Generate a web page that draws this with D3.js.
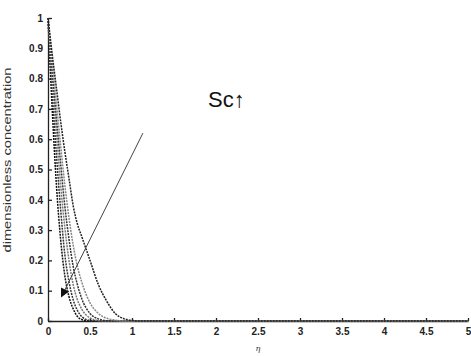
<!DOCTYPE html>
<html>
<head>
<meta charset="utf-8">
<script src="https://d3js.org/d3.v7.min.js"></script>
<style>
  body { margin: 0; background: #fff; }
  svg { display: block; }
  .axis text { font-family: Arial, "Liberation Sans", sans-serif; font-size: 10px; font-weight: bold; fill: #222; }
  .axis path, .axis line { stroke: #222; stroke-width: 1.3; }
</style>
</head>
<body>
<div id="container"></div>
<script>
// eta grid shared by all curves
const eta = [0, 0.05, 0.1, 0.15, 0.2, 0.25, 0.3, 0.35, 0.4, 0.5, 0.6, 0.7, 0.8, 0.9, 1.0, 1.1, 1.5, 2, 3, 4, 5]

// concentration profiles, Sc increasing from outer to inner curve
const curveA = [1, 0.70, 0.45, 0.27, 0.15, 0.08, 0.04, 0.015, 0.005, 0, 0, 0, 0, 0, 0, 0, 0, 0, 0, 0, 0]
const curveB = [1, 0.76, 0.55, 0.37, 0.22, 0.13, 0.07, 0.035, 0.015, 0.002, 0, 0, 0, 0, 0, 0, 0, 0, 0, 0, 0]
const curveC = [1, 0.80, 0.62, 0.45, 0.31, 0.20, 0.12, 0.07, 0.04, 0.01, 0.002, 0, 0, 0, 0, 0, 0, 0, 0, 0, 0]
const curveD = [1, 0.83, 0.67, 0.52, 0.38, 0.27, 0.18, 0.12, 0.075, 0.025, 0.007, 0.001, 0, 0, 0, 0, 0, 0, 0, 0, 0]
const curveE = [1, 0.86, 0.72, 0.58, 0.45, 0.34, 0.25, 0.18, 0.13, 0.06, 0.025, 0.009, 0.003, 0, 0, 0, 0, 0, 0, 0, 0]
const curveF = [1, 0.88, 0.77, 0.66, 0.56, 0.47, 0.38, 0.32, 0.28, 0.20, 0.12, 0.065, 0.025, 0.008, 0.002, 0, 0, 0, 0, 0, 0]
const curves = [curveA, curveB, curveC, curveD, curveE, curveF]
const curveColors = ["#111", "#333", "#777", "#333", "#888", "#222"]

const xTicks = [0, 0.5, 1, 1.5, 2, 2.5, 3, 3.5, 4, 4.5, 5]
const yTicks = [0, 0.1, 0.2, 0.3, 0.4, 0.5, 0.6, 0.7, 0.8, 0.9, 1]

// arrow showing increasing Sc (data coordinates)
const arrowFrom = [1.13, 0.62]
const arrowTo = [0.16, 0.08]

const w = 471
const h = 356

const xScale = d3.scaleLinear().domain([0, 5]).range([48, 468])
const yScale = d3.scaleLinear().domain([0, 1]).range([321, 18])

const svg = d3.select("#container")
    .append("svg")
    .attr("width", w)
    .attr("height", h)

svg.append("defs").append("marker")
    .attr("id", "head")
    .attr("viewBox", "0 0 10 10")
    .attr("refX", 9)
    .attr("refY", 5)
    .attr("markerWidth", 10)
    .attr("markerHeight", 9)
    .attr("markerUnits", "userSpaceOnUse")
    .attr("orient", "auto")
    .append("path")
    .attr("d", "M0,0 L10,5 L0,10 z")
    .attr("fill", "#111")

// Axes
const xAxis = d3.axisBottom(xScale)
    .tickValues(xTicks)
    .tickFormat(d3.format("~g"))
    .tickSizeInner(-3)
    .tickSizeOuter(0)
    .tickPadding(7)

const yAxis = d3.axisLeft(yScale)
    .tickValues(yTicks)
    .tickFormat(d3.format("~g"))
    .tickSizeInner(-4)
    .tickSizeOuter(0)
    .tickPadding(5)

svg.append("g")
    .attr("class", "axis")
    .attr("transform", "translate(0," + yScale(0) + ")")
    .call(xAxis)

svg.append("g")
    .attr("class", "axis")
    .attr("transform", "translate(" + xScale(0) + ",0)")
    .call(yAxis)

// Curves
const line = d3.line()
    .x((d, i) => xScale(eta[i]))
    .y(d => yScale(d))
    .curve(d3.curveMonotoneX)

svg.selectAll(".curve")
    .data(curves)
    .enter()
    .append("path")
    .attr("class", "curve")
    .attr("d", line)
    .attr("fill", "none")
    .attr("stroke", (d, i) => curveColors[i])
    .attr("stroke-width", 1.5)
    .attr("stroke-dasharray", "2,1")

// Arrow
svg.append("line")
    .attr("x1", xScale(arrowFrom[0]))
    .attr("y1", yScale(arrowFrom[1]))
    .attr("x2", xScale(arrowTo[0]))
    .attr("y2", yScale(arrowTo[1]))
    .attr("stroke", "#444")
    .attr("stroke-width", 1)
    .attr("marker-end", "url(#head)")

// Annotation
svg.append("text")
    .attr("x", 208)
    .attr("y", 107)
    .attr("font-family", "Arial, 'Liberation Sans', sans-serif")
    .attr("font-size", 22)
    .attr("fill", "#111")
    .text("Sc↑")

// Axis labels
svg.append("text")
    .attr("transform", "translate(11," + 160 + ") rotate(-90)")
    .attr("text-anchor", "middle")
    .attr("font-family", "Arial, 'Liberation Sans', sans-serif")
    .attr("font-size", 11)
    .attr("textLength", 185)
    .attr("lengthAdjust", "spacingAndGlyphs")
    .attr("fill", "#333")
    .text("dimensionless concentration")

svg.append("text")
    .attr("x", 258)
    .attr("y", 351)
    .attr("text-anchor", "middle")
    .attr("font-family", "'DejaVu Serif', serif")
    .attr("font-style", "italic")
    .attr("font-size", 8)
    .attr("fill", "#333")
    .text("η")
</script>
</body>
</html>
